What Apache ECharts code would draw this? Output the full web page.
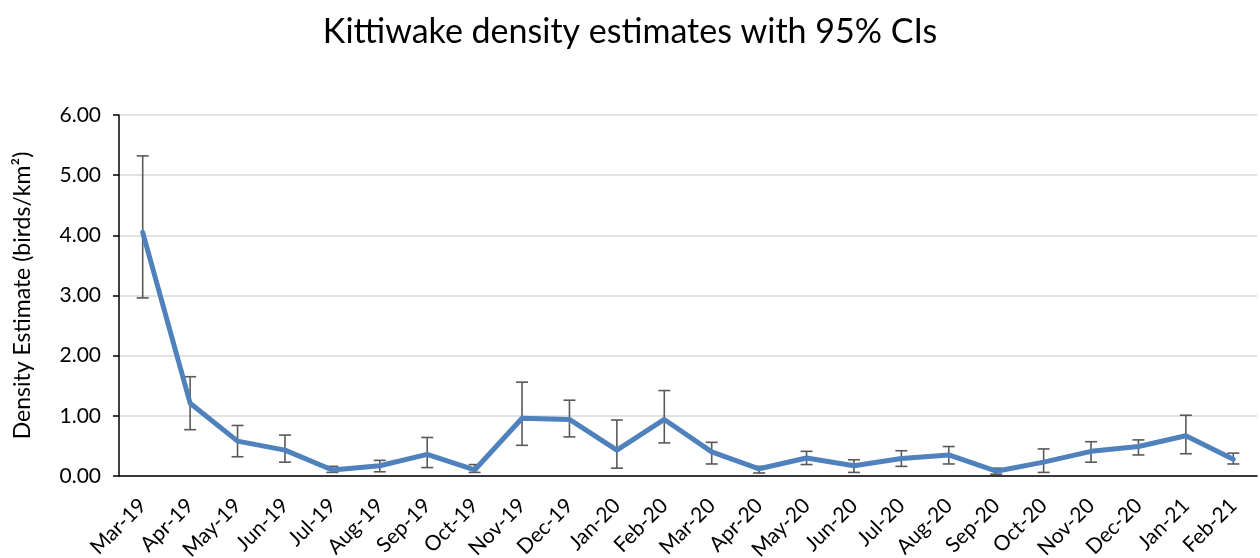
<!DOCTYPE html>
<html>
<head>
<meta charset="utf-8">
<script src="https://cdn.jsdelivr.net/npm/echarts@6/dist/echarts.min.js"></script>
<style>
html,body{margin:0;padding:0;background:#fff;}
#chart{width:1260px;height:558px;}
</style>
</head>
<body>
<div id="chart"></div>
<script>
const categories = ["Mar-19","Apr-19","May-19","Jun-19","Jul-19","Aug-19","Sep-19","Oct-19","Nov-19","Dec-19","Jan-20","Feb-20","Mar-20","Apr-20","May-20","Jun-20","Jul-20","Aug-20","Sep-20","Oct-20","Nov-20","Dec-20","Jan-21","Feb-21"];
const estimates = [4.05,1.21,0.58,0.43,0.10,0.17,0.36,0.10,0.96,0.94,0.43,0.94,0.40,0.12,0.30,0.17,0.29,0.35,0.08,0.23,0.41,0.49,0.67,0.28];
const lowerCI  = [2.96,0.77,0.32,0.23,0.06,0.07,0.14,0.06,0.51,0.65,0.13,0.55,0.20,0.05,0.19,0.06,0.16,0.20,0.03,0.06,0.23,0.35,0.37,0.20];
const upperCI  = [5.32,1.65,0.84,0.68,0.16,0.26,0.64,0.19,1.56,1.26,0.93,1.42,0.56,0.16,0.41,0.27,0.42,0.49,0.13,0.45,0.57,0.60,1.01,0.38];
const yTicks = [0,1,2,3,4,5,6];

const errData = categories.map((c,i)=>[i, lowerCI[i], upperCI[i]]);
const font = "Lato, 'Open Sans', sans-serif";

const chart = echarts.init(document.getElementById('chart'));
chart.setOption({
  animation:false,
  title:{text:'Kittiwake density estimates with 95% CIs', left:'center', top:10,
    textStyle:{fontFamily:font, fontSize:34, fontWeight:'normal', color:'#000'}},
  grid:{left:119, right:3, top:115, bottom:82, containLabel:false, outerBoundsMode:'none'},
  xAxis:{type:'category', data:categories, boundaryGap:true,
    axisLine:{lineStyle:{color:'#000', width:1.5}},
    axisTick:{show:false},
    axisLabel:{rotate:45, fontFamily:font, fontSize:21, color:'#000', margin:26, interval:0}},
  yAxis:{type:'value', min:yTicks[0], max:yTicks[yTicks.length-1], interval:1,
    name:'Density Estimate (birds/km²)', nameLocation:'middle', nameGap:85, nameRotate:90,
    nameTextStyle:{fontFamily:font, fontSize:23, color:'#000'},
    axisLine:{show:true, lineStyle:{color:'#000', width:1.5}},
    axisTick:{show:true, length:6, lineStyle:{color:'#000', width:1.5}},
    axisLabel:{fontFamily:font, fontSize:21, color:'#000', margin:18, formatter:v=>v.toFixed(2)},
    splitLine:{lineStyle:{color:'#d9d9d9', width:1.5}}},
  series:[
    {type:'custom', z:1, data:errData,
      renderItem:function(params, api){
        const x = api.value(0);
        const lo = api.coord([x, api.value(1)]);
        const hi = api.coord([x, api.value(2)]);
        const w = 6;
        const st = {stroke:'#595959', lineWidth:1.6};
        return {type:'group', children:[
          {type:'line', shape:{x1:lo[0], y1:lo[1], x2:hi[0], y2:hi[1]}, style:st},
          {type:'line', shape:{x1:lo[0]-w, y1:lo[1], x2:lo[0]+w, y2:lo[1]}, style:st},
          {type:'line', shape:{x1:hi[0]-w, y1:hi[1], x2:hi[0]+w, y2:hi[1]}, style:st}
        ]};
      }},
    {type:'line', z:2, data:estimates, showSymbol:false, symbol:'none',
      lineStyle:{color:'#4f81bd', width:5, cap:'round', join:'round'}}
  ]
});
</script>
</body>
</html>
